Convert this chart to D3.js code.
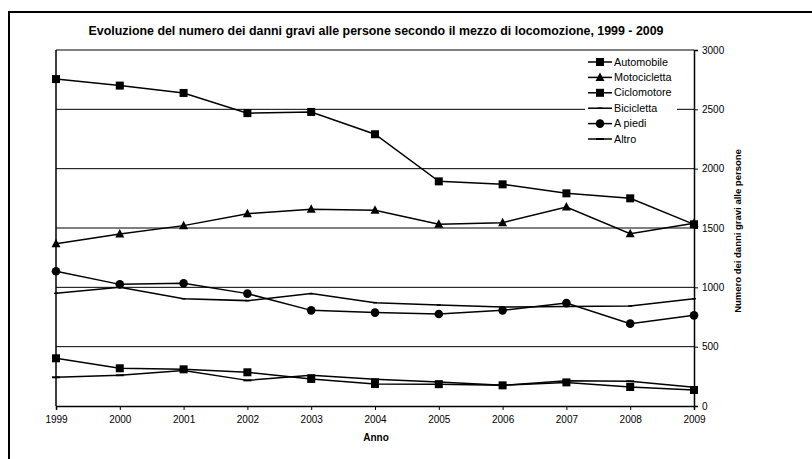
<!DOCTYPE html>
<html>
<head>
<meta charset="utf-8">
<script src="https://cdn.jsdelivr.net/npm/d3@7"></script>
<style>
  body { margin: 0; background: #fff; }
  svg { display: block; font-family: "Liberation Sans", Arial, sans-serif; }
</style>
</head>
<body>
<figure id="chart" style="margin:0"></figure>
<script>
// anni e serie
const years = [1999, 2000, 2001, 2002, 2003, 2004, 2005, 2006, 2007, 2008, 2009];
const automobile = [2755, 2700, 2638, 2468, 2478, 2290, 1893, 1868, 1792, 1750, 1531];
const motocicletta = [1368, 1450, 1520, 1621, 1657, 1649, 1531, 1545, 1677, 1452, 1540];
const ciclomotore = [402, 318, 309, 284, 228, 185, 184, 174, 199, 160, 135];
const bicicletta = [950, 1000, 904, 888, 947, 871, 851, 834, 838, 843, 904];
const aPiedi = [1135, 1025, 1034, 947, 806, 787, 775, 806, 868, 694, 764];
const altro = [242, 259, 300, 216, 259, 225, 202, 174, 213, 208, 157];
const yTicks = [0, 500, 1000, 1500, 2000, 2500, 3000];

const series = [
  { name: 'Automobile', values: automobile, marker: 'square' },
  { name: 'Motocicletta', values: motocicletta, marker: 'triangle' },
  { name: 'Ciclomotore', values: ciclomotore, marker: 'square' },
  { name: 'Bicicletta', values: bicicletta, marker: 'dash' },
  { name: 'A piedi', values: aPiedi, marker: 'circle' },
  { name: 'Altro', values: altro, marker: 'longdash' }
];

const W = 812, H = 459;
const plot = { left: 56, right: 694, top: 50, bottom: 406 };

const svg = d3.select('#chart').append('svg')
  .attr('width', W).attr('height', H);

// cornice esterna
svg.append('rect')
  .attr('x', 9).attr('y', 12)
  .attr('width', W + 20).attr('height', H + 20)
  .attr('fill', 'none').attr('stroke', '#000').attr('stroke-width', 2);

svg.append('text')
  .attr('x', 376).attr('y', 35)
  .attr('text-anchor', 'middle')
  .attr('font-size', 12.4).attr('font-weight', 'bold')
  .text('Evoluzione del numero dei danni gravi alle persone secondo il mezzo di locomozione, 1999 - 2009');

const x = d3.scalePoint()
  .domain(years)
  .range([plot.left, plot.right]);

const y = d3.scaleLinear()
  .domain([0, 3000])
  .range([plot.bottom, plot.top]);

// griglia
svg.append('g')
  .selectAll('line')
  .data(yTicks.filter(d => d > 0))
  .join('line')
  .attr('x1', plot.left).attr('x2', plot.right)
  .attr('y1', d => y(d)).attr('y2', d => y(d))
  .attr('stroke', '#000').attr('stroke-width', 1);

// asse sinistro senza etichette
svg.append('line')
  .attr('x1', plot.left).attr('x2', plot.left)
  .attr('y1', plot.top).attr('y2', plot.bottom)
  .attr('stroke', '#000').attr('stroke-width', 1.5);

const xAxis = d3.axisBottom(x).tickSize(4).tickPadding(6);
svg.append('g')
  .attr('transform', `translate(0,${plot.bottom})`)
  .call(xAxis)
  .call(g => g.select('.domain').attr('stroke-width', 1.5))
  .call(g => g.selectAll('text').attr('font-size', 10).attr('font-family', 'Liberation Sans, Arial'));

const yAxis = d3.axisRight(y).tickValues(yTicks).tickFormat(d3.format('d')).tickSize(4).tickPadding(4);
svg.append('g')
  .attr('transform', `translate(${plot.right},0)`)
  .call(yAxis)
  .call(g => g.select('.domain').attr('stroke-width', 1.5))
  .call(g => g.selectAll('text').attr('font-size', 10).attr('font-family', 'Liberation Sans, Arial'));

svg.append('text')
  .attr('x', 376).attr('y', 441)
  .attr('text-anchor', 'middle')
  .attr('font-size', 10).attr('font-weight', 'bold')
  .text('Anno');

svg.append('text')
  .attr('transform', 'translate(741,231) rotate(-90)')
  .attr('text-anchor', 'middle')
  .attr('font-size', 9.5).attr('font-weight', 'bold')
  .text('Numero dei danni gravi alle persone');

function drawMarker(g, type) {
  if (type === 'square') {
    g.append('rect').attr('x', -4).attr('y', -4).attr('width', 8).attr('height', 8).attr('fill', '#000');
  } else if (type === 'triangle') {
    g.append('path').attr('d', 'M0,-5L4.5,3.5L-4.5,3.5Z').attr('fill', '#000');
  } else if (type === 'circle') {
    g.append('circle').attr('r', 4.3).attr('fill', '#000');
  } else if (type === 'dash') {
    g.append('line').attr('x1', -2).attr('x2', 2).attr('stroke', '#000').attr('stroke-width', 1.5);
  } else if (type === 'longdash') {
    g.append('line').attr('x1', -4).attr('x2', 4).attr('stroke', '#000').attr('stroke-width', 2);
  }
}

const line = d3.line()
  .x((d, i) => x(years[i]))
  .y(d => y(d));

// legenda (sfondo bianco sopra la griglia)
svg.append('rect')
  .attr('x', 585).attr('y', 54).attr('width', 92).attr('height', 92)
  .attr('fill', '#fff');

series.forEach(s => {
  const g = svg.append('g');
  g.append('path')
    .datum(s.values)
    .attr('d', line)
    .attr('fill', 'none')
    .attr('stroke', '#000')
    .attr('stroke-width', 1.5);
  g.selectAll('g.pt')
    .data(s.values)
    .join('g')
    .attr('class', 'pt')
    .attr('transform', (d, i) => `translate(${x(years[i])},${y(d)})`)
    .each(function () { drawMarker(d3.select(this), s.marker); });
});

series.forEach((s, i) => {
  const row = svg.append('g').attr('transform', `translate(600,${62 + i * 15.4})`);
  row.append('line').attr('x1', -12).attr('x2', 12)
    .attr('stroke', '#000').attr('stroke-width', 1.5);
  drawMarker(row, s.marker);
  row.append('text')
    .attr('x', 14).attr('y', 3.5)
    .attr('font-size', 10.8)
    .text(s.name);
});
</script>
</body>
</html>
